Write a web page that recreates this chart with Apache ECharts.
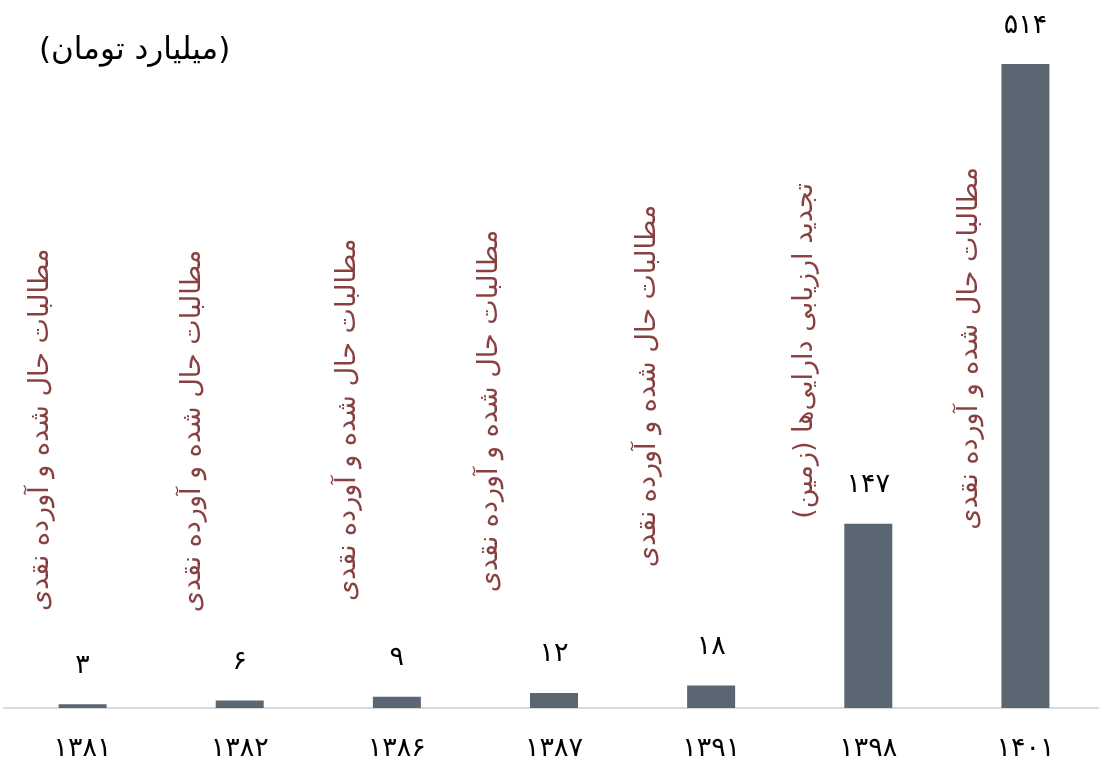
<!DOCTYPE html>
<html>
<head>
<meta charset="utf-8">
<script src="https://cdn.jsdelivr.net/npm/echarts@6/dist/echarts.min.js"></script>
<style>
html,body{margin:0;padding:0;background:#fff;}
#c{width:1099px;height:763px;}
</style>
</head>
<body>
<div id="c"></div>
<script>
// ---- data ----
const categories = ['۱۳۸۱', '۱۳۸۲', '۱۳۸۶', '۱۳۸۷', '۱۳۹۱', '۱۳۹۸', '۱۴۰۱'];
const values = [3, 6, 9, 12, 18, 147, 514];
const valueLabels = ['۳', '۶', '۹', '۱۲', '۱۸', '۱۴۷', '۵۱۴'];
const NOTE_A = 'مطالبات حال شده و آورده نقدی';
const NOTE_B = '\u200Fتجدید ارزیابی دارایی‌ها (زمین)\u200F';
const notes = [NOTE_A, NOTE_A, NOTE_A, NOTE_A, NOTE_A, NOTE_B, NOTE_A];
const unitTitle = '(میلیارد تومان)';

// ---- layout (not data) ----
const noteAnchor = [222, 221, 230, 237, 257, 285, 287]; // vertical anchor in axis units
const noteDx = [-42, -47, -49, -64, -63, -63, -55];

const FONT = "'DejaVu Sans', 'Noto Sans', sans-serif";

const chart = echarts.init(document.getElementById('c'), null, {renderer: 'canvas'});
chart.setOption({
  animation: false,
  backgroundColor: '#ffffff',
  title: {
    text: unitTitle,
    left: 34, top: 30,
    textStyle: {fontFamily: FONT, fontSize: 31, fontWeight: 'normal', color: '#000'}
  },
  grid: {left: 4, width: 1100, top: 64, bottom: 55, containLabel: false, outerBoundsMode: 'none'},
  xAxis: {
    type: 'category',
    data: categories,
    axisLine: {show: true, lineStyle: {color: '#d9d9d9', width: 2}},
    axisTick: {show: false},
    axisLabel: {fontFamily: FONT, fontSize: 27, color: '#000', margin: 27}
  },
  yAxis: {
    type: 'value', min: 0, max: 514,
    show: false, splitLine: {show: false}
  },
  series: [
    {
      type: 'bar',
      data: values,
      barWidth: 48,
      itemStyle: {color: '#5a6672'},
      label: {
        show: true, position: 'top', distance: 25,
        fontFamily: FONT, fontSize: 27, color: '#000',
        formatter: p => valueLabels[p.dataIndex]
      }
    },
    {
      type: 'scatter',
      symbolSize: 0,
      silent: true,
      data: notes.map((t, i) => ({
        value: [i, noteAnchor[i]],
        label: {offset: [0, noteDx[i]]}
      })),
      label: {
        show: true, position: 'inside', rotate: 90,
        fontFamily: FONT, fontSize: 27, color: '#6a1010',
        formatter: p => notes[p.dataIndex]
      }
    }
  ]
});
</script>
</body>
</html>
